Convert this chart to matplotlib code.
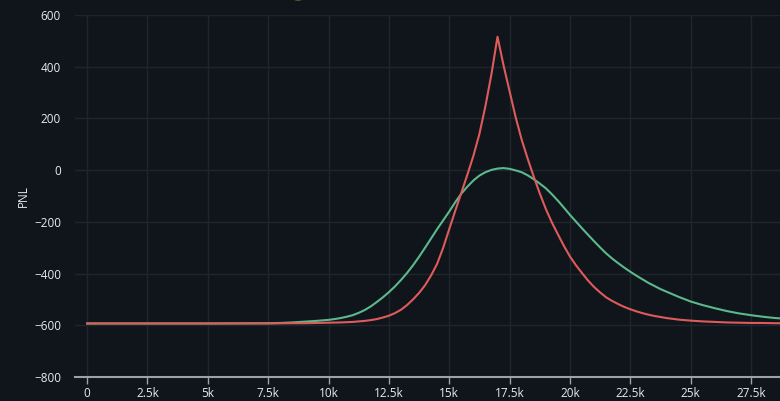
import matplotlib
matplotlib.use("Agg")
import matplotlib.pyplot as plt
from matplotlib.ticker import FuncFormatter, MultipleLocator

plt.rcParams['font.family'] = ['Open Sans', 'DejaVu Sans']

# underlying price (thousands) and PnL of the two positions
price_k = [0, 2.5, 5, 7.5, 8, 8.5,
           9, 9.25, 9.5, 9.75, 10, 10.25, 10.5, 10.75, 11, 11.25, 11.5, 11.75,
           12, 12.25, 12.5, 12.75, 13, 13.25, 13.5, 13.75, 14, 14.25, 14.5, 14.75,
           15, 15.25, 15.5, 15.75, 16, 16.25, 16.5, 16.75, 17, 17.25, 17.5, 17.75,
           18, 18.25, 18.5, 18.75, 19, 19.25, 19.5, 19.75, 20, 20.25, 20.5, 20.75,
           21, 21.25, 21.5, 21.75, 22, 22.25, 22.5, 22.75, 23, 23.25, 23.5, 23.75,
           24, 24.25, 24.5, 24.75, 25, 25.5, 26, 26.5, 27, 27.5, 28, 28.5, 29]
pnl_red = [-593, -593, -593, -593, -592.5, -592,
           -592, -591.5, -591, -590.5, -590, -589.5, -589, -588, -587, -585, -583, -580,
           -576, -570, -563, -553, -540, -522, -500, -475, -445, -407, -362, -300,
           -228, -157, -88, -18, 55, 140, 248, 372, 516, 405, 305, 205,
           118, 44, -25, -90, -150, -202, -248, -293, -334, -368, -398, -427,
           -452, -473, -492, -506, -518, -529, -538, -546, -553, -559, -564, -568,
           -572, -575, -578, -580, -582, -585, -587, -589, -590, -591, -591, -592, -592]
pnl_green = [-593, -593, -593, -592, -591, -589,
             -586, -584.5, -583, -581, -579, -576, -572, -567, -561, -552, -541, -527,
             -510, -492, -472, -450, -425, -398, -368, -335, -300, -264, -228, -194,
             -160, -124, -91, -64, -40, -21, -8, 1, 6, 8, 5, -1,
             -8, -20, -35, -52, -70, -93, -118, -145, -173, -199, -225, -250,
             -275, -299, -322, -342, -360, -377, -393, -408, -422, -436, -448, -460,
             -470, -480, -490, -499, -508, -522, -534, -545, -554, -561, -567, -572, -575]

bg = '#0f151a'
txt = '#e6ebef'

fig = plt.figure(figsize=(7.8, 4.01), dpi=100, facecolor=bg)
ax = fig.add_axes([75 / 780, 24 / 401, 705 / 780, 362 / 401])
ax.set_facecolor(bg)

x = [v * 1000 for v in price_k]
ax.plot(x, pnl_green, color='#5bb98c', lw=1.5)
ax.plot(x, pnl_red, color='#df5b5b', lw=1.5)

ax.set_xlim(-500, 28700)
ax.set_ylim(-800, 600)
ax.xaxis.set_major_locator(MultipleLocator(2500))
ax.yaxis.set_major_locator(MultipleLocator(200))
ax.xaxis.set_major_formatter(FuncFormatter(lambda v, p: '0' if v == 0 else ('%gk' % (v / 1000))))
ax.grid(True, color='#1f262b', lw=1)
ax.set_axisbelow(True)

for s in ['top', 'right', 'left']:
    ax.spines[s].set_visible(False)
ax.spines['bottom'].set_color('#9aa3ab')
ax.spines['bottom'].set_linewidth(1.5)

ax.tick_params(axis='x', colors='#9aa3ab', labelcolor=txt, length=5, width=1, labelsize=8.5, pad=2)
ax.tick_params(axis='y', length=0, labelcolor=txt, labelsize=8.5, pad=10)
ax.set_ylabel('PNL', color=txt, fontsize=8.5)
ax.yaxis.set_label_coords(-0.064, 0.5)

# legend marker cut off at the top edge
fig.add_artist(plt.Circle((298 / 780, 1.008), 0.008, color='#3f8a34',
                          transform=fig.transFigure, clip_on=False))

fig.savefig('out.png', dpi=100, facecolor=bg)
